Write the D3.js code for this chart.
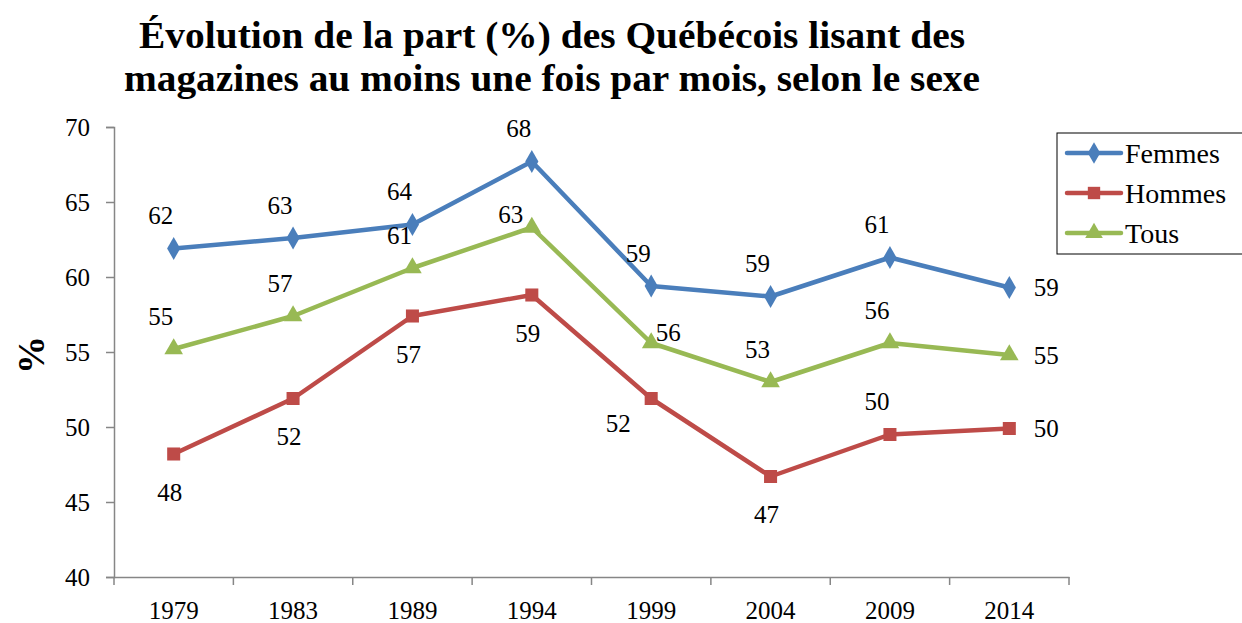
<!DOCTYPE html>
<html>
<head>
<meta charset="utf-8">
<script src="https://cdn.jsdelivr.net/npm/d3@7"></script>
<style>
	body { margin: 0; background: #fff; }
</style>
</head>
<body>
<svg id="chart" width="1242" height="623"></svg>
<script>
// Data
const years = ["1979", "1983", "1989", "1994", "1999", "2004", "2009", "2014"];
const femmes = [61.9, 62.6, 63.5, 67.7, 59.4, 58.7, 61.3, 59.3];
const hommes = [48.2, 51.9, 57.4, 58.8, 51.9, 46.7, 49.5, 49.9];
const tous = [55.2, 57.4, 60.6, 63.3, 55.6, 53.0, 55.6, 54.8];
const yTicks = [40, 45, 50, 55, 60, 65, 70];
const titleLines = [
	"Évolution de la part (%) des Québécois lisant des",
	"magazines au moins une fois par mois, selon le sexe",
];

// where each data label sits around its point
const femmesPlace = ["t", "t", "t", "t", "t", "t", "t", "r"];
const hommesPlace = ["b", "b", "b", "b", "bl", "b", "t", "r"];
const tousPlace = ["t", "t", "t", "tl", "tr", "t", "t", "r"];

const serif = '"Liberation Serif", "Times New Roman", serif';

const series = [
	{ name: "Femmes", values: femmes, place: femmesPlace, color: "#4a7ebb", symbol: d3.symbolDiamond, size: 150 },
	{ name: "Hommes", values: hommes, place: hommesPlace, color: "#be4b48", symbol: d3.symbolSquare, size: 170 },
	{ name: "Tous", values: tous, place: tousPlace, color: "#98b954", symbol: d3.symbolTriangle, size: 150 },
];

const offsets = {
	t: [-13, -33],
	b: [-4, 38],
	r: [37, 0],
	tl: [-21, -13],
	tr: [17, -11],
	bl: [-33, 25],
};

const svg = d3.select("#chart").style("font-family", serif);
const margin = { left: 114, right: 173, top: 127, bottom: 46 };
const width = +svg.attr("width");
const height = +svg.attr("height");

const x = d3.scaleBand().domain(years).range([margin.left, width - margin.right]);
const y = d3.scaleLinear().domain([40, 70]).range([height - margin.bottom, margin.top]);
const cx = (d) => x(d) + x.bandwidth() / 2;

// Title (the original is a condensed bold serif)
const titleWidths = [826, 856];
svg.append("g")
	.selectAll("text")
	.data(titleLines)
	.join("text")
	.attr("x", 552)
	.attr("y", (d, i) => 48 + i * 43)
	.attr("text-anchor", "middle")
	.attr("textLength", (d, i) => titleWidths[i])
	.attr("lengthAdjust", "spacingAndGlyphs")
	.style("font-family", serif)
	.style("font-size", "37px").style("font-weight", "bold")
	.text((d) => d);

// Axes
const axisColor = "#868686";
const yAxis = svg.append("g")
	.attr("transform", `translate(${margin.left},0)`)
	.call(d3.axisLeft(y).tickValues(yTicks).tickSize(8).tickPadding(16));
const xAxis = svg.append("g")
	.attr("transform", `translate(0,${height - margin.bottom})`)
	.call(d3.axisBottom(x).tickSize(0).tickPadding(24));

// x ticks sit between categories
svg.append("g")
	.selectAll("line")
	.data(years.concat(["end"]))
	.join("line")
	.attr("x1", (d, i) => margin.left + i * x.bandwidth())
	.attr("x2", (d, i) => margin.left + i * x.bandwidth())
	.attr("y1", height - margin.bottom)
	.attr("y2", height - margin.bottom + 8)
	.attr("stroke", axisColor).attr("stroke-width", 1.5);

for (const ax of [yAxis, xAxis]) {
	ax.attr("font-family", null);
	ax.select(".domain").attr("stroke", axisColor).attr("stroke-width", 1.5);
	ax.selectAll(".tick line").attr("stroke", axisColor).attr("stroke-width", 1.5);
	ax.selectAll("text")
		.style("font-family", serif)
		.style("font-size", "25px")
		.attr("fill", "#000");
}

// y title
svg.append("text")
	.attr("transform", "translate(44,355) rotate(-90)")
	.attr("text-anchor", "middle")
	.style("font-family", serif)
	.style("font-size", "38px").style("font-weight", "bold")
	.text("%");

// Lines, markers, labels
const line = d3.line().x((d, i) => cx(years[i])).y((d) => y(d));

for (const s of series) {
	const g = svg.append("g");
	g.append("path")
		.attr("d", line(s.values))
		.attr("fill", "none")
		.attr("stroke", s.color)
		.attr("stroke-width", 4.5)
		.attr("stroke-linejoin", "round");
	g.selectAll("path.mark")
		.data(s.values)
		.join("path")
		.attr("class", "mark")
		.attr("d", d3.symbol().type(s.symbol).size(s.size))
		.attr("transform", (d, i) => `translate(${cx(years[i])},${y(d)})`)
		.attr("fill", s.color);
	g.selectAll("text")
		.data(s.values)
		.join("text")
		.attr("x", (d, i) => cx(years[i]) + offsets[s.place[i]][0])
		.attr("y", (d, i) => y(d) + offsets[s.place[i]][1])
		.attr("dy", "0.35em")
		.attr("text-anchor", "middle")
		.style("font-family", serif)
		.style("font-size", "25px")
		.text((d) => Math.round(d));
}

// Legend
const legend = svg.append("g").attr("transform", "translate(1057,133)");
legend.append("rect")
	.attr("width", 190).attr("height", 121)
	.attr("fill", "#fff").attr("stroke", "#000").attr("stroke-width", 1);
series.forEach((s, i) => {
	const row = legend.append("g").attr("transform", `translate(0,${20 + i * 40})`);
	row.append("line")
		.attr("x1", 10).attr("x2", 64)
		.attr("stroke", s.color).attr("stroke-width", 4.5).attr("stroke-linecap", "round");
	row.append("path")
		.attr("d", d3.symbol().type(s.symbol).size(s.size * 0.9))
		.attr("transform", "translate(37,0)")
		.attr("fill", s.color);
	row.append("text")
		.attr("x", 68).attr("dy", "0.35em")
		.style("font-family", serif)
		.style("font-size", "28px")
		.text(s.name);
});
</script>
</body>
</html>
